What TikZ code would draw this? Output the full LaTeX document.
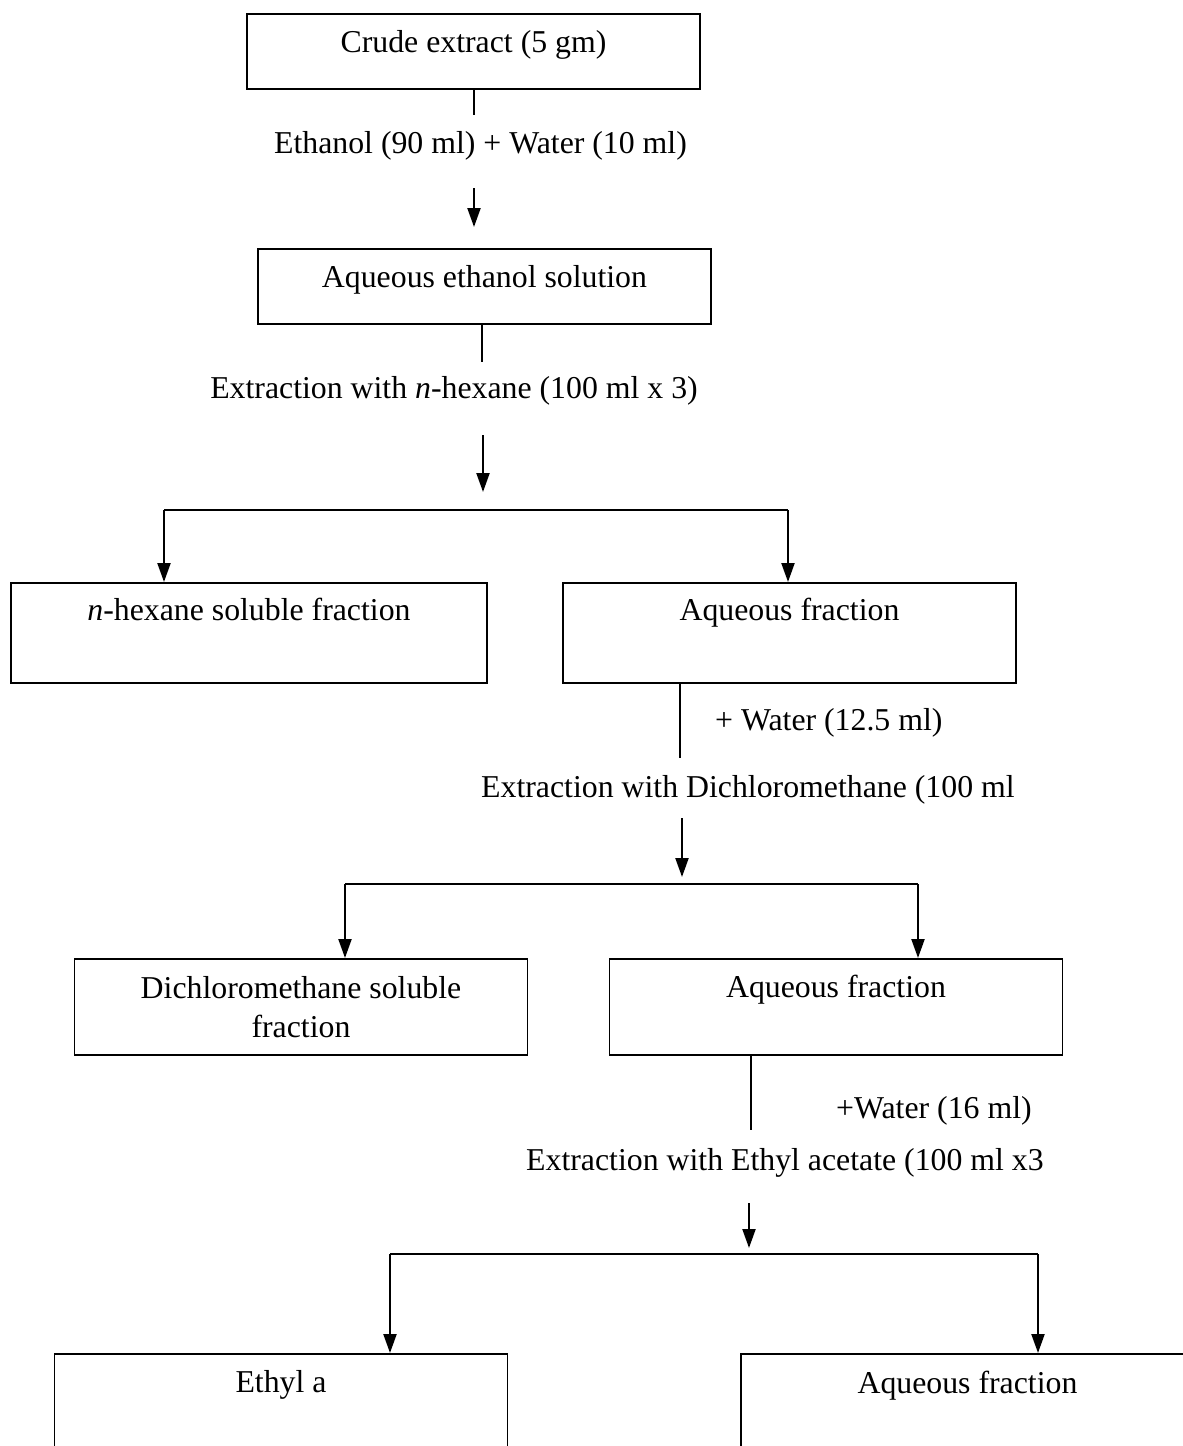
\documentclass[tikz,border=0pt]{standalone}
\usepackage{fontspec}
\setmainfont{Liberation Serif}
\usetikzlibrary{arrows.meta}

\begin{document}
\begin{tikzpicture}[x=1pt,y=-1pt,
  box/.style={draw,line width=1.8pt,inner sep=0pt,minimum width=453pt,anchor=north,font=\fontsize{31.8}{39}\selectfont},
  lab/.style={inner sep=0pt,anchor=base,font=\fontsize{31.8}{39}\selectfont},
  link/.style={line width=2.2pt},
  arr/.style={line width=2.2pt,-{Triangle[length=19pt,width=13pt]}},
  bar/.style={line width=2.8pt}]

% Page frame
\useasboundingbox (0,0) rectangle (1183,1446);
\clip (0,0) rectangle (1183,1446);

% Boxes
\node[box,text height=39pt,text depth=36pt] (crude) at (473.5,13) {Crude extract (5 gm)};
\node[box,text height=39pt,text depth=36pt] (aqeth) at (484.5,248) {Aqueous ethanol solution};
\node[box,minimum width=476pt,text height=38pt,text depth=62pt] (hexfr) at (249,582) {\textit{n}-hexane soluble fraction};
\node[box,text height=38pt,text depth=62pt] (aqfr1) at (789.5,582) {Aqueous fraction};
\node[box,align=center,minimum height=96pt] (dcmfr) at (301,958) {Dichloromethane soluble\\fraction};
\node[box,text height=39pt,text depth=57pt] (aqfr2) at (836,958) {Aqueous fraction};
\node[box,text height=39pt,text depth=120pt] (ethfr) at (281,1353) {Ethyl a};
\node[box,text height=40pt,text depth=120pt] (aqfr3) at (967.5,1353) {Aqueous fraction};

% Solvent labels
\node[lab] (solv1) at (480.5,153) {Ethanol (90 ml) + Water (10 ml)};
\node[lab] (solv2) at (454,398) {Extraction with \textit{n}-hexane (100 ml x 3)};
\node[lab,anchor=base west] (wat1) at (715,730) {+ Water (12.5 ml)};
\node[lab,anchor=base west] (solv3) at (481,797) {Extraction with Dichloromethane (100 ml};
\node[lab,anchor=base west] (wat2) at (836,1118) {+Water (16 ml)};
\node[lab,anchor=base west] (solv4) at (526,1170) {Extraction with Ethyl acetate (100 ml x3};

% Stage 1
\coordinate (l1) at (474,115);
\coordinate (a1) at (474,188);
\draw[link] (crude.south -| l1) -- (l1);
\draw[arr,shorten >=21pt] (a1) -- (a1 |- aqeth.north);

% Stage 2
\coordinate (l2) at (482,362);
\coordinate (a2) at (483,435);
\coordinate (j1) at (164,510);
\coordinate (k1) at (788,510);
\draw[link] (aqeth.south -| l2) -- (l2);
\draw[arr,shorten >=18pt] (a2) -- (a2 |- j1);
\draw[bar] (j1) -- (k1);
\draw[arr] (j1) -- (j1 |- hexfr.north);
\draw[arr] (k1) -- (k1 |- aqfr1.north);

% Stage 3
\coordinate (l3) at (680,758);
\coordinate (a3) at (682,818);
\coordinate (j2) at (345,884);
\coordinate (k2) at (918,884);
\draw[link] (aqfr1.south -| l3) -- (l3);
\draw[arr,shorten >=7pt] (a3) -- (a3 |- j2);
\draw[bar] (j2) -- (k2);
\draw[arr] (j2) -- (j2 |- dcmfr.north);
\draw[arr] (k2) -- (k2 |- aqfr2.north);

% Stage 4
\coordinate (l4) at (751,1130);
\coordinate (a4) at (749,1203);
\coordinate (j3) at (390,1254);
\coordinate (k3) at (1038,1254);
\draw[link] (aqfr2.south -| l4) -- (l4);
\draw[arr,shorten >=6pt] (a4) -- (a4 |- j3);
\draw[bar] (j3) -- (k3);
\draw[arr] (j3) -- (j3 |- ethfr.north);
\draw[arr] (k3) -- (k3 |- aqfr3.north);
\end{tikzpicture}
\end{document}
